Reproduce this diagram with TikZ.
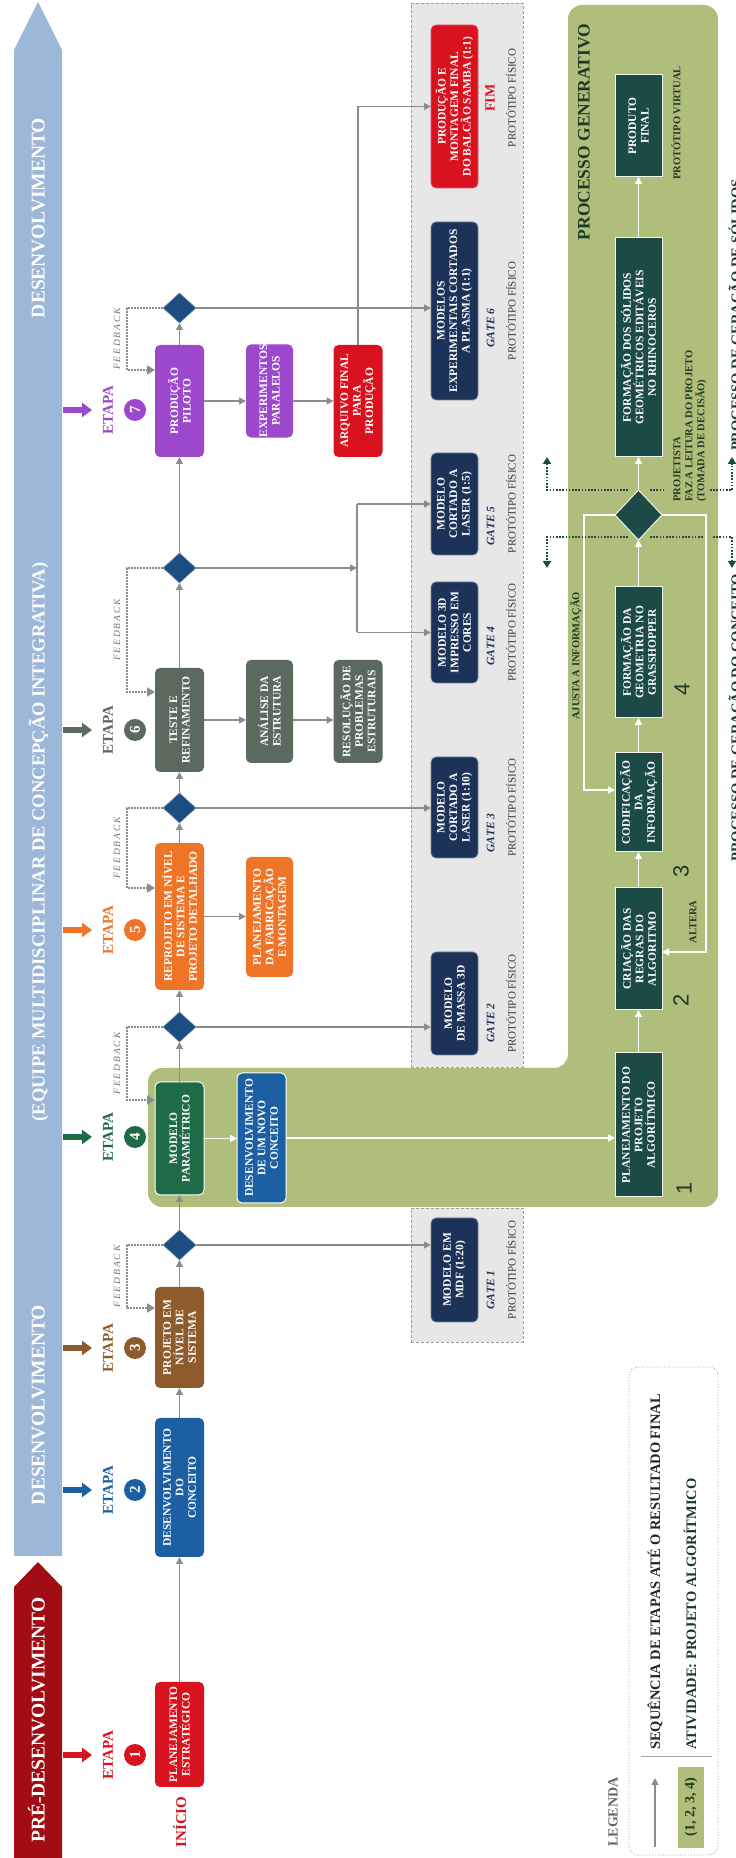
\documentclass[tikz,border=0pt]{standalone}
\usepackage{fontspec}
\setmainfont{Liberation Serif}
\newfontfamily\numfont{Liberation Sans}
\newfontfamily\spacedfont[LetterSpace=20]{Liberation Serif}
\usetikzlibrary{arrows.meta,shapes.geometric}

\definecolor{bandblue}{HTML}{9CB7D8}
\definecolor{bandred}{HTML}{A20C13}
\definecolor{cred}{HTML}{D8121E}
\definecolor{cblue}{HTML}{1C60A3}
\definecolor{cbrown}{HTML}{8E5B2C}
\definecolor{cgreen}{HTML}{1F6B47}
\definecolor{corange}{HTML}{EE7427}
\definecolor{cgray}{HTML}{5C695D}
\definecolor{cpurple}{HTML}{9C48CC}
\definecolor{cnavy}{HTML}{1D3258}
\definecolor{cdiam}{HTML}{1C4C80}
\definecolor{genbg}{HTML}{AFBE7A}
\definecolor{genbox}{HTML}{1C4A47}
\definecolor{gentext}{HTML}{1D3A26}
\definecolor{arrgray}{HTML}{8C8C8C}
\definecolor{gatebg}{HTML}{E7E7E7}
\definecolor{txtgray}{HTML}{3A3A3A}

\tikzset{
  every node/.style={inner sep=0pt,outer sep=0pt},
  boxfont/.style={font=\fontsize{11.5}{12.5}\selectfont\bfseries},
  pbox/.style={boxfont,rounded corners=5pt,minimum height=49pt,align=center,text=white},
  gatebox/.style={pbox,fill=cnavy,draw=cnavy!60!white,line width=0.7pt,minimum height=47pt},
  genb/.style={boxfont,draw=white!85!genbg,line width=1pt,fill=genbox,minimum height=47pt,align=center,text=white},
  decision/.style={diamond,fill=cdiam,draw=cdiam!55!white,line width=0.6pt,minimum width=30pt,minimum height=33pt},
  flow/.style={draw=arrgray,line width=1.5pt,-{Triangle[length=7pt,width=7pt]}},
  flowline/.style={draw=arrgray,line width=1.5pt},
  wflow/.style={draw=white,line width=1.3pt,-{Triangle[length=7pt,width=7pt]}},
  fback/.style={draw=arrgray,line width=1.8pt,dash pattern=on 1.6pt off 1.4pt,-{Triangle[length=8pt,width=9pt]}},
  fblabel/.style={font={\spacedfont\itshape\fontsize{9.5}{9.5}\selectfont},text=black!55},
  brk/.style={draw=genbox,line width=1.8pt,dash pattern=on 1.6pt off 1.6pt},
  brktip/.style={brk,-{Triangle[length=7pt,width=8pt]}},
  bandtxt/.style={font=\fontsize{19.5}{20}\selectfont\bfseries,text=white,anchor=base},
  stagelabel/.style={font=\fontsize{15}{15}\selectfont\bfseries},
  stagecircle/.style={circle,minimum size=22pt,text=white,font=\fontsize{15}{15}\selectfont\bfseries},
  gatelabel/.style={font=\fontsize{11.5}{12}\selectfont\bfseries\itshape,text=cnavy},
  protolabel/.style={font=\fontsize{11}{12}\selectfont,text=txtgray,anchor=base},
  gatearea/.style={fill=gatebg,draw=gray!75,line width=0.7pt,dash pattern=on 3pt off 2pt},
  gentxt/.style={font=\fontsize{10.5}{12}\selectfont\bfseries,text=gentext},
  stepnum/.style={font=\numfont\fontsize{22}{22}\selectfont,text=gentext},
  legtxt/.style={font=\fontsize{14.5}{15}\selectfont\bfseries,text=black!85,anchor=base west},
}

% arrow, label and numbered disc above each stage
\newcommand\stagemark[4]{%
  \draw[line width=6pt,draw=#2,-{Triangle[length=10pt,width=14pt]}] (#1,-63) -- (#1,-92);
  \node[stagelabel,text=#2] (#4-lbl) at (#1,-108) {ETAPA};
  \node[stagecircle,fill=#2] (#4-num) at (#1,-135) {#3};
}

\begin{document}
\begin{tikzpicture}[x=1pt,y=1pt]
\useasboundingbox (0,0) rectangle (736,1858);
\clip (0,0) rectangle (736,1858);
\fill[white] (0,0) rectangle (736,1858);

% the whole chart is laid out left to right and turned a quarter turn
\begin{scope}[rotate=90,transform shape]

% ---------- phase bands ----------
\fill[bandred] (-5,-14) -- (271,-14) -- (296,-38) -- (271,-62) -- (-5,-62) -- cycle;
\fill[bandblue] (302,-14) -- (1808,-14) -- (1856,-38) -- (1808,-62) -- (302,-62) -- cycle;
\node[bandtxt] (band-pre) at (138,-44.5) {PRÉ-DESENVOLVIMENTO};
\node[bandtxt] (band-dev1) at (453,-44.5) {DESENVOLVIMENTO};
\node[bandtxt,font=\fontsize{18.5}{19}\selectfont\bfseries] (band-team) at (1016,-44.5) {(EQUIPE MULTIDISCIPLINAR DE CONCEPÇÃO INTEGRATIVA)};
\node[bandtxt] (band-dev2) at (1640,-44.5) {DESENVOLVIMENTO};

% ---------- stages ----------
\stagemark{103}{cred}{1}{st1}
\stagemark{368}{cblue}{2}{st2}
\stagemark{510}{cbrown}{3}{st3}
\stagemark{721}{cgreen}{4}{st4}
\stagemark{928}{corange}{5}{st5}
\stagemark{1128}{cgray}{6}{st6}
\stagemark{1448}{cpurple}{7}{st7}

\node[font=\fontsize{15}{15}\selectfont\bfseries,text=cred,anchor=base] (inicio) at (36,-186) {INÍCIO};

% ---------- prototype areas ----------
\draw[gatearea] (516,-411) rectangle (650,-523);
\draw[gatearea] (791,-411) rectangle (1855,-523);

% ---------- generative process region ----------
\fill[genbg,rounded corners=14pt] (651,-148) -- (790,-148) -- (790,-568) -- (1853,-568) -- (1853,-718) -- (651,-718) -- cycle;

% ---------- main process ----------
\node[pbox,fill=cred,minimum width=105pt] (b1) at (123.5,-179.5) {PLANEJAMENTO\\ESTRATÉGICO};
\node[pbox,fill=cblue,minimum width=139pt] (b2) at (370.5,-179.5) {DESENVOLVIMENTO\\DO\\CONCEITO};
\node[pbox,fill=cbrown,minimum width=101pt] (b3) at (520.5,-179.5) {PROJETO EM\\NÍVEL DE\\SISTEMA};
\node[decision] (d1) at (613,-179.5) {};
\node[pbox,fill=cgreen,draw=white,line width=1pt,minimum width=113pt] (b4) at (719.5,-179.5) {MODELO\\PARAMÉTRICO};
\node[decision] (d2) at (831,-179.5) {};
\node[pbox,fill=corange,minimum width=147pt] (b5) at (941.5,-179.5) {REPROJETO EM NÍVEL\\DE SISTEMA E\\PROJETO DETALHADO};
\node[decision] (d3) at (1050,-179.5) {};
\node[pbox,fill=cgray,minimum width=104pt] (b6) at (1138,-179.5) {TESTE E\\REFINAMENTO};
\node[decision] (d4) at (1290,-179.5) {};
\node[pbox,fill=cpurple,minimum width=112pt] (b7) at (1457,-179.5) {PRODUÇÃO\\PILOTO};
\node[decision] (d5) at (1550,-179.5) {};

% ---------- side activities ----------
\node[pbox,fill=cblue,draw=white,line width=1pt,minimum width=130pt] (b4b) at (720,-261.5) {DESENVOLVIMENTO\\DE UM NOVO\\CONCEITO};
\node[pbox,fill=corange,minimum width=120pt,minimum height=47pt] (b5b) at (941,-269.5) {PLANEJAMENTO\\DA FABRICAÇÃO\\E MONTAGEM};
\node[pbox,fill=cgray,minimum width=103pt,minimum height=47pt] (b6b) at (1146.5,-269.5) {ANÁLISE DA\\ESTRUTURA};
\node[pbox,fill=cgray,minimum width=103pt] (b6c) at (1146.5,-358) {RESOLUÇÃO DE\\PROBLEMAS\\ESTRUTURAIS};
\node[pbox,fill=cpurple,minimum width=92pt,minimum height=47pt] (b7b) at (1467,-269.5) {EXPERIMENTOS\\PARALELOS};
\node[pbox,fill=cred,minimum width=112pt] (b7c) at (1457,-358) {ARQUIVO FINAL\\PARA\\PRODUÇÃO};

% ---------- physical prototypes ----------
\node[gatebox,minimum width=104pt] (g1) at (588,-454.5) {MODELO EM\\MDF (1:20)};
\node[gatebox,minimum width=103pt] (g2) at (854.5,-454.5) {MODELO\\DE MASSA 3D};
\node[gatebox,minimum width=101pt] (g3) at (1050.5,-454.5) {MODELO\\CORTADO A\\LASER (1:10)};
\node[gatebox,minimum width=101pt] (g4) at (1225.5,-454.5) {MODELO 3D\\IMPRESSO EM\\CORES};
\node[gatebox,minimum width=102pt] (g5) at (1354,-454.5) {MODELO\\CORTADO A\\LASER (1:5)};
\node[gatebox,minimum width=178pt] (g6) at (1547,-454.5) {MODELOS\\EXPERIMENTAIS CORTADOS\\A PLASMA (1:1)};
\node[gatebox,fill=cred,draw=cred!70!white,minimum width=163pt] (fimbox) at (1751.5,-454.5) {PRODUÇÃO E\\MONTAGEM FINAL\\DO BALCÃO SAMBA (1:1)};

\node[gatelabel] (gl1) at (568,-490.5) {GATE 1};
\node[gatelabel] (gl2) at (835,-490.5) {GATE 2};
\node[gatelabel] (gl3) at (1025,-490.5) {GATE 3};
\node[gatelabel] (gl4) at (1212,-490.5) {GATE 4};
\node[gatelabel] (gl5) at (1332,-490.5) {GATE 5};
\node[gatelabel] (gl6) at (1530,-490.5) {GATE 6};
\node[font=\fontsize{14}{14}\selectfont\bfseries,text=cred] (fimlbl) at (1760,-490) {FIM};
\node[protolabel] (pl1) at (588,-515.5) {PROTÓTIPO FÍSICO};
\node[protolabel] (pl2) at (854.5,-515.5) {PROTÓTIPO FÍSICO};
\node[protolabel] (pl3) at (1050.5,-515.5) {PROTÓTIPO FÍSICO};
\node[protolabel] (pl4) at (1225.5,-515.5) {PROTÓTIPO FÍSICO};
\node[protolabel] (pl5) at (1354,-515.5) {PROTÓTIPO FÍSICO};
\node[protolabel] (pl6) at (1547,-515.5) {PROTÓTIPO FÍSICO};
\node[protolabel] (pl7) at (1760,-515.5) {PROTÓTIPO FÍSICO};

% ---------- main flow ----------
\draw[flow] (b1) -- (b2);
\draw[flow] (b2) -- (b3);
\draw[flow] (b3) -- (d1);
\draw[flow] (d1) -- (b4);
\draw[flow] (b4) -- (d2);
\draw[flow] (d2) -- (b5);
\draw[flow] (b5) -- (d3);
\draw[flow] (d3) -- (b6);
\draw[flow] (b6) -- (d4);
\draw[flow] (d4) -- (b7);
\draw[flow] (b7) -- (d5);

\draw[flow] (b5.south) -- (b5 |- b5b.north);
\draw[flow] (b6.south) -- (b6 |- b6b.north);
\draw[flow] (b6 |- b6b.south) -- (b6 |- b6c.north);
\draw[flow] (b7.south) -- (b7 |- b7b.north);
\draw[flow] (b7 |- b7b.south) -- (b7 |- b7c.north);

% ---------- to the prototypes ----------
\draw[flow] (d1.south) -- (d1 |- g1.north);
\draw[flow] (d2.south) -- (d2 |- g2.north);
\draw[flow] (d3.south) -- (d3 |- g3.north);
\coordinate (split) at (1290,-357);
\draw[flow] (d4.south) -- (split);
\draw[flowline] (g4 |- split) -- (g5 |- split);
\draw[flow] (g4 |- split) -- (g4.north);
\draw[flow] (g5 |- split) -- (g5.north);
\draw[flow] (d5.south) -- (d5 |- g6.north);
\draw[flow] (b7c.east) -- (fimbox |- b7c) -- (fimbox.north);

% ---------- feedback loops ----------
\coordinate (fb1) at (550,-127);
\coordinate (fb2) at (758,-127);
\coordinate (fb3) at (970,-127);
\coordinate (fb4) at (1166,-127);
\coordinate (fb5) at (1488,-127);
\draw[fback] (d1.north) -- (d1 |- fb1) -- (fb1) -- (fb1 |- b3.north);
\draw[fback] (d2.north) -- (d2 |- fb2) -- (fb2) -- (fb2 |- b4.north);
\draw[fback] (d3.north) -- (d3 |- fb3) -- (fb3) -- (fb3 |- b5.north);
\draw[fback] (d4.north) -- (d4 |- fb4) -- (fb4) -- (fb4 |- b6.north);
\draw[fback] (d5.north) -- (d5 |- fb5) -- (fb5) -- (fb5 |- b7.north);
\node[fblabel] (fbl1) at (581.5,-117) {FEEDBACK};
\node[fblabel] (fbl2) at (794.5,-117) {FEEDBACK};
\node[fblabel] (fbl3) at (1010,-117) {FEEDBACK};
\node[fblabel] (fbl4) at (1228,-117) {FEEDBACK};
\node[fblabel] (fbl5) at (1519,-117) {FEEDBACK};

% ---------- generative process ----------
\node[font=\fontsize{17.5}{18}\selectfont\bfseries,text=gentext] (gentitle) at (1726,-584) {PROCESSO GENERATIVO};
\node[genb,minimum width=144pt] (gp1) at (733,-638.5) {PLANEJAMENTO DO\\PROJETO\\ALGORÍTMICO};
\node[genb,minimum width=122pt] (gp2) at (909,-638.5) {CRIAÇÃO DAS\\REGRAS DO\\ALGORITMO};
\node[genb,minimum width=99pt] (gp3) at (1055.5,-638.5) {CODIFICAÇÃO\\DA\\INFORMAÇÃO};
\node[genb,minimum width=131pt] (gp4) at (1205.5,-638.5) {FORMAÇÃO DA\\GEOMETRIA NO\\GRASSHOPPER};
\node[diamond,fill=genbox,draw=white!85!genbg,line width=1pt,minimum width=50pt,minimum height=47pt] (gd) at (1343,-638.5) {};
\node[genb,minimum width=219pt] (gp5) at (1510.5,-638.5) {FORMAÇÃO DOS SÓLIDOS\\GEOMÉTRICOS EDITÁVEIS\\NO RHINOCEROS};
\node[genb,minimum width=102pt] (gp6) at (1732,-638.5) {PRODUTO\\FINAL};
\node[gentxt] (pvirt) at (1735,-676) {PROTÓTIPO VIRTUAL};

\draw[wflow] (b4.south) -- (b4 |- b4b.north);
\draw[wflow] (b4b.south) -- (b4b |- gp1.north);
\draw[wflow] (gp1) -- (gp2);
\draw[wflow] (gp2) -- (gp3);
\draw[wflow] (gp3) -- (gp4);
\draw[wflow] (gp4) -- (gd);
\draw[wflow] (gd) -- (gp5);
\draw[wflow] (gp5) -- (gp6);

\coordinate (aj) at (1068,-584);
\coordinate (alt) at (906,-706);
\draw[wflow] (gd.north) -- (gd |- aj) -- (aj) -- (aj |- gp3.north);
\draw[wflow] (gd.south) -- (gd |- alt) -- (alt) -- (alt |- gp2.south);
\node[gentxt] (ajlbl) at (1202,-576) {AJUSTA A INFORMAÇÃO};
\node[gentxt] (altlbl) at (936,-693) {ALTERA};

\node[stepnum] (n1) at (670,-684) {1};
\node[stepnum] (n2) at (858,-681) {2};
\node[stepnum] (n3) at (987,-681) {3};
\node[stepnum] (n4) at (1169,-682) {4};

\node[gentxt,align=left,anchor=west] (declbl) at (1356,-690) {PROJETISTA\\FAZ A LEITURA DO PROJETO\\(TOMADA DE DECISÃO)};

% dotted markers splitting the two sub-processes
\draw[brktip] (1321,-628) -- (1321,-547) -- (1290,-547);
\draw[brktip] (1368,-628) -- (1368,-547) -- (1401,-547);
\draw[brk] (1321,-650) -- (1321,-704);
\draw[brk] (1368,-650) -- (1368,-665);
\draw[brktip] (1321,-713) -- (1321,-732) -- (1290,-732);
\draw[brktip] (1368,-710) -- (1368,-732) -- (1401,-732);
\node[font=\fontsize{14.5}{15}\selectfont\bfseries,text=gentext,anchor=base east] (cap1) at (1284,-741) {PROCESSO DE GERAÇÃO DO CONCEITO};
\node[font=\fontsize{14.5}{15}\selectfont\bfseries,text=gentext,anchor=base west] (cap2) at (1407,-741) {PROCESSO DE GERAÇÃO DE SÓLIDOS};

% ---------- legend ----------
\node[font=\fontsize{14}{14}\selectfont\bfseries,text=black!60] (legtitle) at (46,-613) {LEGENDA};
\draw[draw=gray!80,line width=0.8pt,dotted,rounded corners=9pt] (3,-629) rectangle (491,-718);
\coordinate (lgA) at (11,-655);
\coordinate (lgB) at (80,-655);
\draw[flow] (lgA) -- (lgB);
\draw[draw=gray!70,line width=1pt] (101,-641) -- (101,-712);
\node[legtxt] (leg1) at (108,-660) {SEQUÊNCIA DE ETAPAS ATÉ O RESULTADO FINAL};
\node[fill=genbg,minimum width=81pt,minimum height=26pt,font=\fontsize{14}{14}\selectfont\bfseries,text=gentext] (legkey) at (50.5,-691) {(1, 2, 3, 4)};
\node[legtxt,text=gentext] (leg2) at (108,-696) {ATIVIDADE: PROJETO ALGORÍTMICO};

\end{scope}
\end{tikzpicture}
\end{document}
